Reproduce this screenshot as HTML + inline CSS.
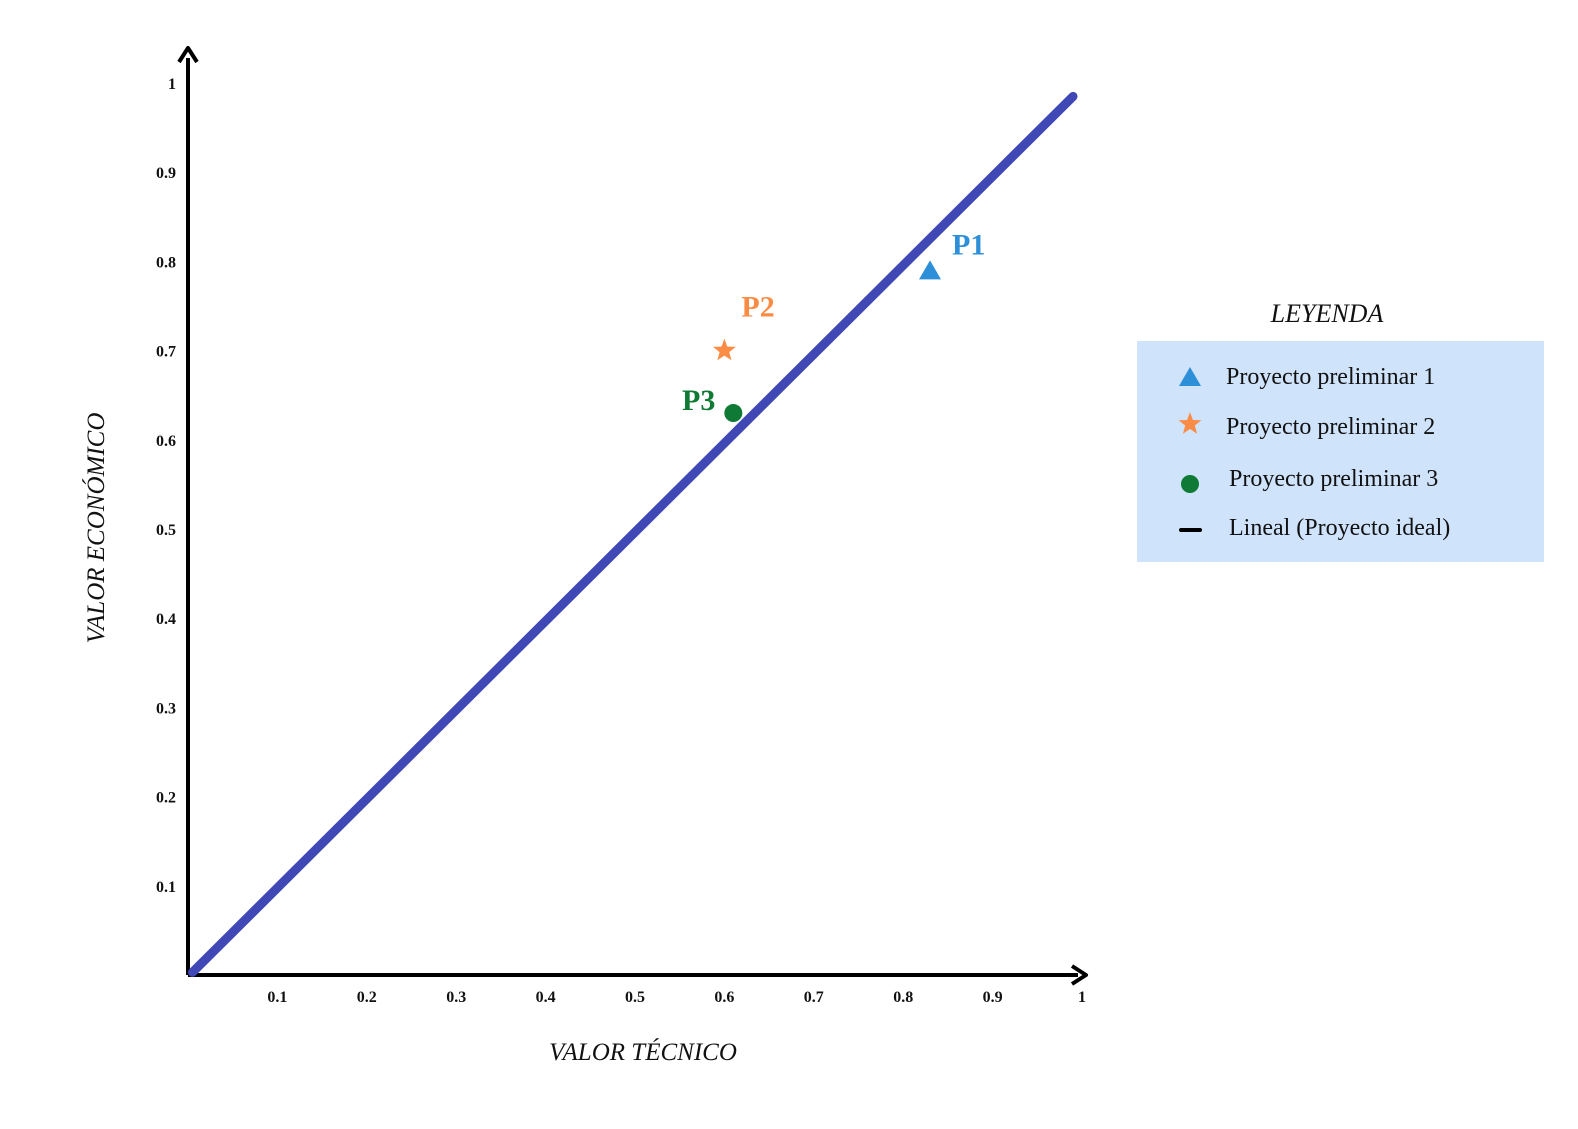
<!DOCTYPE html>
<html><head><meta charset="utf-8"><style>
html,body{margin:0;padding:0;background:#fff;}
svg{display:block;font-family:"Liberation Serif",serif;}
</style></head><body>
<svg id="chart" width="1578" height="1129" viewBox="0 0 1578 1129">
<g id="axes">
<line x1="188" y1="975" x2="188" y2="58" stroke="#000" stroke-width="4"/>
<polyline points="179,62 188,48 197,62" fill="none" stroke="#000" stroke-width="4" stroke-linejoin="round"/>
<line x1="188" y1="975" x2="1078" y2="975" stroke="#000" stroke-width="4"/>
<polyline points="1072,966 1086,975 1072,984" fill="none" stroke="#000" stroke-width="4" stroke-linejoin="round"/>
</g>
<g id="xticks"></g>
<g id="yticks"></g>
<text x="643" y="1060" text-anchor="middle" font-size="25" font-style="italic" fill="#111">VALOR TÉCNICO</text>
<text transform="translate(104,528) rotate(-90)" text-anchor="middle" font-size="25" font-style="italic" fill="#111">VALOR ECONÓMICO</text>
<line id="ideal" stroke="#3f48b5" stroke-width="9" stroke-linecap="round"/>
<g id="points"></g>
<g>
<text x="1327" y="322" text-anchor="middle" font-size="26" font-style="italic" fill="#111">LEYENDA</text>
<rect x="1137" y="341" width="407" height="221" fill="#cfe3fb"/>
<polygon points="1190,367 1201,386 1179,386" fill="#2d8fd8"/>
<text x="1226" y="384" font-size="24" fill="#111">Proyecto preliminar 1</text>
<polygon id="legstar" fill="#fb8c45"/>
<text x="1226" y="434" font-size="24" fill="#111">Proyecto preliminar 2</text>
<circle cx="1190" cy="484" r="9" fill="#0f7a35"/>
<text x="1229" y="486" font-size="24" fill="#111">Proyecto preliminar 3</text>
<line x1="1181" y1="530" x2="1200" y2="530" stroke="#000" stroke-width="4" stroke-linecap="round"/>
<text x="1229" y="535" font-size="24" fill="#111">Lineal (Proyecto ideal)</text>
</g>
</svg>
<script>
const xTicks=[0.1,0.2,0.3,0.4,0.5,0.6,0.7,0.8,0.9,1];
const xTickLabels=["0.1","0.2","0.3","0.4","0.5","0.6","0.7","0.8","0.9","1"];
const yTicks=[0.1,0.2,0.3,0.4,0.5,0.6,0.7,0.8,0.9,1];
const yTickLabels=["0.1","0.2","0.3","0.4","0.5","0.6","0.7","0.8","0.9","1"];
const pointNames=["P1","P2","P3"];
const pointX=[0.83,0.60,0.61];
const pointY=[0.79,0.70,0.63];
const lineX=[0.005,0.99];
const lineY=[0.003,0.985];
const NS="http://www.w3.org/2000/svg";
const sx=v=>188+v*894, sy=v=>975-v*892;
function mk(tag,attrs,parent,txt){const e=document.createElementNS(NS,tag);for(const k in attrs)e.setAttribute(k,attrs[k]);if(txt!==undefined)e.textContent=txt;parent.appendChild(e);return e;}
const xg=document.getElementById('xticks'), yg=document.getElementById('yticks');
xTicks.forEach((v,i)=>{const t=mk('text',{x:sx(v),y:1002,'text-anchor':'middle','font-size':16,'font-weight':'bold',fill:'#111'},xg,xTickLabels[i]);

});
yTicks.forEach((v,i)=>{const t=mk('text',{x:176,y:sy(v)+6,'text-anchor':'end','font-size':16,'font-weight':'bold',fill:'#111'},yg,yTickLabels[i]);

});
const ln=document.getElementById('ideal');
ln.setAttribute('x1',sx(lineX[0]));ln.setAttribute('y1',sy(lineY[0]));ln.setAttribute('x2',sx(lineX[1]));ln.setAttribute('y2',sy(lineY[1]));
function star(cx,cy,R,r){let p=[];for(let i=0;i<10;i++){const a=-Math.PI/2+i*Math.PI/5,rr=i%2?r:R;p.push((cx+rr*Math.cos(a)).toFixed(1)+','+(cy+rr*Math.sin(a)).toFixed(1));}return p.join(' ');}
document.getElementById('legstar').setAttribute('points',star(1190,424,12,5));
const pg=document.getElementById('points');
const colors=["#2d8fd8","#fb8c45","#0f7a35"];
pointNames.forEach((n,i)=>{const cx=sx(pointX[i]),cy=sy(pointY[i]);let m;
if(i===0)m=mk('polygon',{points:`${cx},${cy-10} ${cx+11},${cy+9} ${cx-11},${cy+9}`,fill:colors[i]},pg);
else if(i===1)m=mk('polygon',{points:star(cx,cy,12,5),fill:colors[i]},pg);
else m=mk('circle',{cx:cx,cy:cy,r:9,fill:colors[i]},pg);


const off=[[22,-16,'start'],[17,-34,'start'],[-18,-3,'end']][i];
const t=mk('text',{x:cx+off[0],y:cy+off[1],'text-anchor':off[2],'font-size':30,'font-weight':'bold',fill:colors[i]},pg,n);

});
</script>
</body></html>
